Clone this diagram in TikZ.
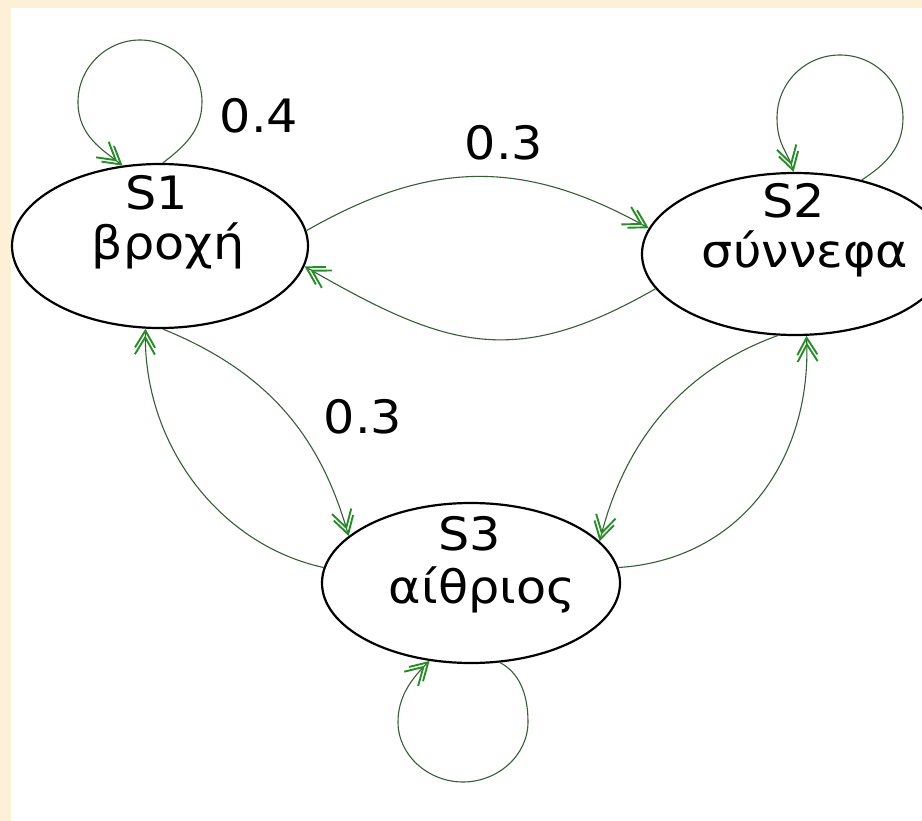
\documentclass[tikz,border=0pt]{standalone}
\usepackage{fontspec}
\setmainfont{DejaVu Sans}[FakeStretch=1.07]
\usetikzlibrary{shapes.geometric,arrows.meta}
\definecolor{beige}{RGB}{252,240,214}
\definecolor{edgecol}{RGB}{55,95,55}
\definecolor{tipgreen}{RGB}{40,140,40}
\begin{document}
\begin{tikzpicture}[x=1pt,y=-1pt,
  state/.style={draw=black,line width=2.2pt,ellipse,inner sep=0pt,fill=white},
  txt/.style={font=\fontsize{46}{55}\selectfont,inner sep=0pt,anchor=base},
  edge/.style={draw=edgecol,line width=1.1pt,
    -{Straight Barb[length=17pt,width=20pt,line width=1.9pt,color=tipgreen,sep=-13pt]Straight Barb[length=17pt,width=20pt,line width=1.9pt,color=tipgreen]}}]
\useasboundingbox (0,0) rectangle (922,821);
\clip (0,0) rectangle (922,821);
\fill[beige] (0,0) rectangle (922,821);
\fill[white] (11,8) rectangle (922,821);
% states
\node[state,minimum width=296pt,minimum height=164pt] (s1) at (160,246) {};
\node[state,minimum width=306pt,minimum height=162pt] (s2) at (795,254) {};
\node[state,minimum width=298pt,minimum height=160pt] (s3) at (471,583) {};
% texts
\node[txt] (s1n) at (157,210) {S1};
\node[txt] (s1w) at (168,260) {βροχή};
\node[txt] (s2n) at (794,218) {S2};
\node[txt] (s2w) at (805,268) {σύννεφα};
\node[txt] (s3n) at (470,550) {S3};
\node[txt] (s3w) at (482,603) {αίθριος};
\node[txt] (p04) at (259,133) {0.4};
\node[txt] (p12) at (504,160) {0.3};
\node[txt] (p13) at (363,433) {0.3};
% transitions
\draw[edge] (s1.6) .. controls (430,160) and (523,158) .. (s2.170);
\draw[edge] (s2.194) .. controls (514,370) and (446,348) .. (s1.-8);
\draw[edge] (s1.-88) .. controls (271,373) and (321,439) .. (s3.159);
\draw[edge] (s3.174) .. controls (220,545) and (143,445) .. (s1.-100);
\draw[edge] (s2.-102) .. controls (683,370) and (625,440) .. (s3.18);
\draw[edge] (s3.6) .. controls (740,560) and (812,460) .. (s2.-82);
% self loops
\draw[edge] (s1.88) .. controls (182,148) and (202,132) .. (202,102)
  .. controls (202,68) and (174,40) .. (140,40)
  .. controls (106,40) and (78,68) .. (78,102)
  .. controls (78,136) and (103,150) .. (s1.115);
\draw[edge] (s2.48) .. controls (885,165) and (903,148) .. (903,118)
  .. controls (903,83) and (875,55) .. (840,55)
  .. controls (805,55) and (777,83) .. (777,118)
  .. controls (777,145) and (788,152) .. (s2.91);
\draw[edge] (s3.-70) .. controls (518,672) and (528,692) .. (528,722)
  .. controls (528,755) and (498,782) .. (463,782)
  .. controls (428,782) and (398,755) .. (398,722)
  .. controls (398,698) and (410,680) .. (s3.-118);
\end{tikzpicture}
\end{document}
